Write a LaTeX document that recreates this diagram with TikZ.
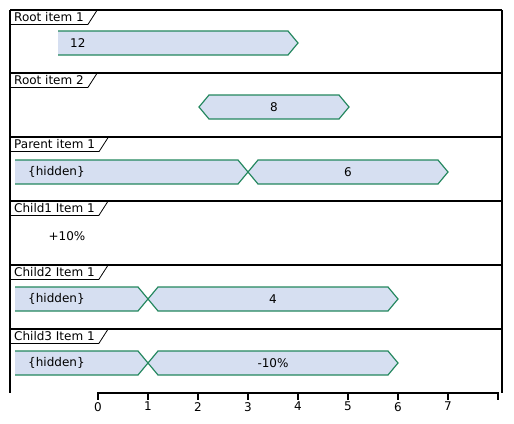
\documentclass[tikz,border=0pt]{standalone}
\usepackage{fontspec}
\setmainfont{DejaVu Sans}
\definecolor{barfill}{HTML}{D6DFF1}
\definecolor{barline}{HTML}{23875E}
\begin{document}
\begin{tikzpicture}[x=1pt,y=-1pt,
  every node/.style={font=\fontsize{12}{14}\selectfont, inner sep=0pt},
  frame/.style={line width=1.4pt, black},
  tabline/.style={line width=0.8pt, black},
  tablabel/.style={anchor=north west, inner xsep=4pt, minimum height=14pt, text depth=0pt},
  barbody/.style={fill=barfill},
  baredge/.style={draw=barline, line width=1.2pt, line join=miter},
  ticklab/.style={anchor=north}
]
\useasboundingbox (0,0) rectangle (514,423);
% frame
\draw[frame] (10,10) -- (502,10);
\draw[frame] (10,10) -- (10,393);
\draw[frame] (502,10) -- (502,393);
\foreach \yy in {73,137,201,265,329} \draw[frame] (10,\yy) -- (502,\yy);
% tabs
\foreach \yy/\lab/\nm in {10/Root item 1/ta,73/Root item 2/tb,137/Parent item 1/tc,201/Child1 Item 1/td,265/Child2 Item 1/te,329/Child3 Item 1/tf}{
  \node[tablabel] (\nm) at (10,\yy) {\lab};
  \draw[tabline] (\nm.south west) -- (\nm.south east) -- ++(9,-14);
}
% Root item 1 : 12
\fill[barbody] (58,31) -- (288,31) -- (298,43) -- (288,55) -- (58,55) -- cycle;
\draw[baredge] (58,31) -- (288,31) -- (298,43) -- (288,55) -- (58,55);
\node[anchor=west] (v12) at (70,43) {12};
% Root item 2 : 8
\fill[barbody] (199,107) -- (209,95) -- (339,95) -- (349,107) -- (339,119) -- (209,119) -- cycle;
\draw[baredge] (199,107) -- (209,95) -- (339,95) -- (349,107) -- (339,119) -- (209,119) -- cycle;
\node (v8) at (274,107) {8};
% Parent item 1
\fill[barbody] (15,160) -- (238,160) -- (248,172) -- (238,184) -- (15,184) -- cycle;
\draw[baredge] (15,160) -- (238,160) -- (248,172) -- (238,184) -- (15,184);
\node[anchor=west] (hc) at (28,172) {\{hidden\}};
\fill[barbody] (248,172) -- (258,160) -- (438,160) -- (448,172) -- (438,184) -- (258,184) -- cycle;
\draw[baredge] (248,172) -- (258,160) -- (438,160) -- (448,172) -- (438,184) -- (258,184) -- cycle;
\node (v6) at (348,172) {6};
% Child1
\node (v10p) at (67,236) {+10\%};
% Child2
\fill[barbody] (15,287) -- (138,287) -- (148,299) -- (138,311) -- (15,311) -- cycle;
\draw[baredge] (15,287) -- (138,287) -- (148,299) -- (138,311) -- (15,311);
\node[anchor=west] (he) at (28,299) {\{hidden\}};
\fill[barbody] (148,299) -- (158,287) -- (388,287) -- (398,299) -- (388,311) -- (158,311) -- cycle;
\draw[baredge] (148,299) -- (158,287) -- (388,287) -- (398,299) -- (388,311) -- (158,311) -- cycle;
\node (v4) at (273,299) {4};
% Child3
\fill[barbody] (15,351) -- (138,351) -- (148,363) -- (138,375) -- (15,375) -- cycle;
\draw[baredge] (15,351) -- (138,351) -- (148,363) -- (138,375) -- (15,375);
\node[anchor=west] (hf) at (28,363) {\{hidden\}};
\fill[barbody] (148,363) -- (158,351) -- (388,351) -- (398,363) -- (388,375) -- (158,375) -- cycle;
\draw[baredge] (148,363) -- (158,351) -- (388,351) -- (398,363) -- (388,375) -- (158,375) -- cycle;
\node (v10m) at (273,363) {-10\%};
% axis
\draw[frame] (98,393) -- (498,393);
\foreach \k in {0,...,8} \draw[frame] (98+50*\k,392) -- (98+50*\k,400);
\foreach \k in {0,...,7} \node[ticklab] (tk\k) at (98+50*\k,402) {\k};
\end{tikzpicture}
\end{document}
